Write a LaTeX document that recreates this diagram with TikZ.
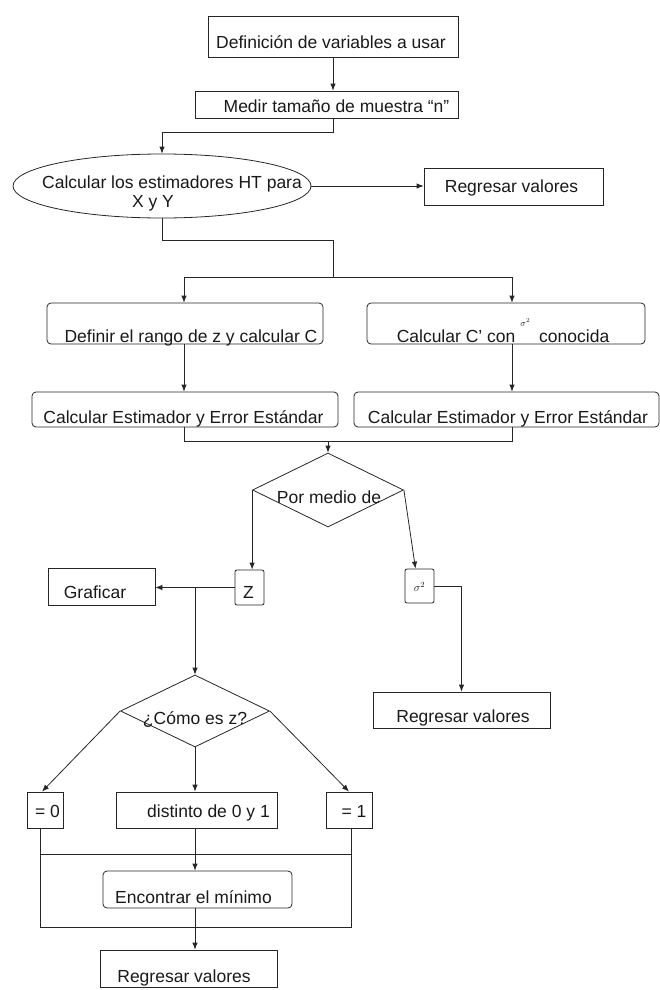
\documentclass[tikz,border=0pt]{standalone}
\usepackage{fontspec}
\setmainfont{Liberation Sans}
\usetikzlibrary{shapes.geometric,arrows.meta,calc}
% zero-size text: #1 = horizontal offset of text centre, #2 = baseline below node centre
\newcommand\zt[3]{\raisebox{-#2}[0pt][0pt]{\rlap{\hspace*{#1}\makebox[0pt]{#3}}}}
\begin{document}
\begin{tikzpicture}[x=1pt,y=-1pt,
  every node/.style={font=\fontsize{17.5}{21}\selectfont, text=black!90},
  sz/.style 2 args={minimum width=#1pt, minimum height=#2pt},
  box/.style={draw=black!85, line width=0.8pt, inner sep=0pt, rectangle},
  rbox/.style={box, rounded corners=4pt},
  sbox/.style={box, rounded corners=2pt},
  ell/.style={draw=black!85, line width=0.8pt, inner sep=0pt, ellipse},
  dia/.style={draw=black!85, line width=0.8pt, inner sep=0pt, diamond},
  ln/.style={draw=black!85, line width=0.8pt},
  arr/.style={ln, -{Latex[length=7pt,width=5.5pt]}}]
\useasboundingbox (0,0) rectangle (659,990);

% nodes
\node[box, sz={250}{41}] (b1) at (333,36.5) {\zt{-2pt}{12pt}{Definición de variables a usar}};
\node[box, sz={263}{27}] (b2) at (326.5,104.5) {\zt{10pt}{8pt}{Medir tamaño de muestra ``n''}};
\node[ell, sz={298}{64}] (ell) at (162,186) {\zt{10pt}{2pt}{Calcular los estimadores HT para}\zt{-9pt}{21pt}{X y Y}};
\node[box, sz={179}{37}] (r1) at (513.5,186.5) {\zt{-2pt}{5.5pt}{Regresar valores}};

\node[rbox, sz={276}{41}] (d1) at (185,323.5) {\zt{6pt}{19pt}{Definir el rango de z y calcular C}};
\node[rbox, sz={278}{41}] (d2) at (506,323.5) {\zt{-3pt}{19pt}{Calcular C' con\hspace{5pt}\raisebox{16pt}{\fontsize{9}{9}\selectfont$\sigma^{2}$}\hspace{9pt}conocida}};

\node[rbox, sz={306}{35}] (e1) at (185,409.5) {\zt{-1.5pt}{13.5pt}{Calcular Estimador y Error Estándar}};
\node[rbox, sz={305}{35}] (e2) at (506.5,409.5) {\zt{1.5pt}{13.5pt}{Calcular Estimador y Error Estándar}};

\node[dia, sz={151}{74}] (dm1) at (328,490) {\zt{1pt}{13pt}{Por medio de}};
\node[sbox, sz={29}{35}] (z) at (249.5,587.5) {\zt{-1pt}{11pt}{Z}};
\node[sbox, sz={29}{34}] (s) at (419.5,586) {\zt{0pt}{5pt}{\fontsize{11}{11}\selectfont$\sigma^{2}$}};
\node[box, sz={107}{37}] (g) at (101.5,586.5) {\zt{-6.5pt}{12pt}{Graficar}};

\node[dia, sz={149}{72}] (dm2) at (195,711) {\zt{0pt}{13pt}{¿Cómo es z?}};
\node[box, sz={177}{36}] (r2) at (461.5,710) {\zt{1.5pt}{12pt}{Regresar valores}};

\node[box, sz={36}{36}] (z0) at (45,810) {\zt{2.5pt}{7pt}{= 0}};
\node[box, sz={161}{36}] (dd) at (196.5,810) {\zt{12pt}{7pt}{distinto de 0 y 1}};
\node[box, sz={46}{36}] (z1) at (349,810) {\zt{5pt}{7pt}{= 1}};

\node[rbox, sz={189}{37}] (en) at (197.5,889.5) {\zt{-4pt}{13.5pt}{Encontrar el mínimo}};
\node[box, sz={177}{37}] (r3) at (188.5,968.5) {\zt{-4.5pt}{13.5pt}{Regresar valores}};

% helper coordinates
\coordinate (j1) at (333,277);
\coordinate (j2) at (328,441);
\coordinate (xL) at (184,0);
\coordinate (xR) at (512,0);
\coordinate (xa) at (40,0);
\coordinate (xb) at (351,0);
\coordinate (ya) at (0,854);
\coordinate (yb) at (0,927);

% connectors
\draw[arr] (b1.south) -- (b1.south |- b2.north);
\draw[arr] (b1 |- b2.south) -- ++(0,14) -| (ell.north);
\draw[arr] (ell.east) -- (r1.west |- ell.east);
\draw[ln] (ell.south) -- ++(0,22) -| (j1);
\draw[arr] (j1) -| (d1.north -| xL);
\draw[arr] (j1) -| (d2.north -| xR);
\draw[arr] (d1.south -| xL) -- (e1.north -| xL);
\draw[arr] (d2.south -| xR) -- (e2.north -| xR);
\draw[ln] (e1.south -| xL) -- (j2 -| xL) -- (j2 -| xR) -- (e2.south -| xR);
\draw[arr] (j2) -- (dm1.north);
\draw[arr] (dm1.west) -- (dm1.west |- z.north);
\draw[arr] (dm1.east) -- ($(s.north)+(-4,0)$);
\draw[arr] (z.west) -- (g.east |- z.west);
\draw[arr] (dm2.north |- z.west) -- (dm2.north);
\draw[arr] (s.east) -| (r2.north);
\draw[arr] (dm2.west) -- ($(z0.north)+(-3,0)$);
\draw[arr] (dm2.south) -- (dm2.south |- dd.north);
\draw[arr] (dm2.east) -- (z1.north);
\draw[ln] (z0.south -| xa) -- (xa |- yb) -- (xb |- yb) -- (z1.south -| xb);
\draw[ln] (xa |- ya) -- (xb |- ya);
\draw[arr] (dd.south -| dm2.south) -- (en.north -| dm2.south);
\draw[arr] (en.south -| dm2.south) -- (r3.north -| dm2.south);
\end{tikzpicture}
\end{document}
